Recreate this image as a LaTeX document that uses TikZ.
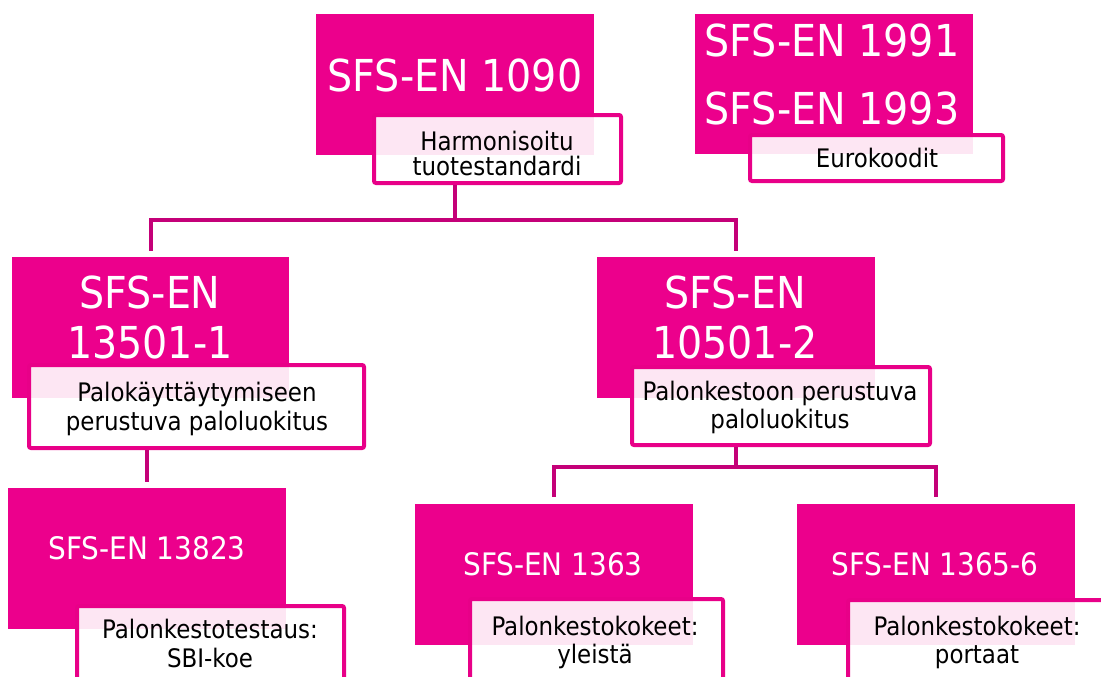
\documentclass[tikz,border=0pt]{standalone}
\usepackage{fontspec}
\setmainfont{DejaVu Sans Condensed}
\definecolor{pk}{RGB}{236,0,140}
\definecolor{pkline}{RGB}{196,0,120}
\definecolor{pkborder}{RGB}{232,0,136}
\begin{document}
\begin{tikzpicture}[x=1pt,y=-1pt,
  stdbox/.style={fill=pk, draw=none, inner sep=0pt},
  lbl/.style={fill=white, fill opacity=0.9, draw=pkborder, line width=4pt, rounded corners=2pt, inner sep=0pt},
  bigtxt/.style={text=white, inner sep=0pt, align=center, font=\fontsize{44}{50}\selectfont},
  midtxt/.style={text=white, inner sep=0pt, align=center, font=\fontsize{31}{34}\selectfont},
  lbltxt/.style={text=black, inner sep=0pt, align=center, font=\fontsize{25.5}{#1}\selectfont},
  conn/.style={draw=pkline, line width=4pt, line join=miter}
]
\useasboundingbox (0,0) rectangle (1101,677);
\clip (0,0) rectangle (1101,677);
\fill[white] (0,0) rectangle (1101,677);

% pink boxes
\node[stdbox, minimum width=278pt, minimum height=141pt] (A) at (455,84.5) {};
\node[stdbox, minimum width=278pt, minimum height=140pt] (B) at (834,84) {};
\node[stdbox, minimum width=277pt, minimum height=141pt] (C) at (150.5,327.5) {};
\node[stdbox, minimum width=278pt, minimum height=141pt] (D) at (736,327.5) {};
\node[stdbox, minimum width=278pt, minimum height=141pt] (E) at (147,558.5) {};
\node[stdbox, minimum width=278pt, minimum height=141pt] (F) at (554,574.5) {};
\node[stdbox, minimum width=278pt, minimum height=141pt] (G) at (936,574.5) {};

% labels
\node[lbl, minimum width=247pt, minimum height=68pt] (LA) at (497.5,149) {};
\node[lbl, minimum width=253pt, minimum height=46pt] (LB) at (876.5,158) {};
\node[lbl, minimum width=335pt, minimum height=83pt] (LC) at (196.5,406.5) {};
\node[lbl, minimum width=298pt, minimum height=78pt] (LD) at (781,406) {};
\node[lbl, minimum width=267pt, minimum height=92pt] (LE) at (210.5,652) {};
\node[lbl, minimum width=253pt, minimum height=99pt] (LF) at (596.5,648.5) {};
\node[lbl, minimum width=260pt, minimum height=98pt] (LG) at (978,649) {};

% texts
\node[bigtxt] (TA) at (455,75) {SFS-EN 1090};
\node[bigtxt] (TB1) at (832,40) {SFS-EN 1991};
\node[bigtxt] (TB2) at (832,108) {SFS-EN 1993};
\node[bigtxt] (TC) at (150,317) {SFS-EN\\13501-1};
\node[bigtxt] (TD) at (735,317) {SFS-EN\\10501-2};
\node[midtxt] (TE) at (147,548) {SFS-EN 13823};
\node[midtxt] (TF) at (553,564) {SFS-EN 1363};
\node[midtxt] (TG) at (935,564) {SFS-EN 1365-6};

\node[lbltxt=25] (TLA) at (497,153) {Harmonisoitu\\tuotestandardi};
\node[lbltxt=28] (TLB) at (877,158) {Eurokoodit};
\node[lbltxt=29] (TLC) at (197,408.5) {Palokäyttäytymiseen\\perustuva paloluokitus};
\node[lbltxt=28] (TLD) at (780,407) {Palonkestoon perustuva\\paloluokitus};
\node[lbltxt=29] (TLE) at (210,643.5) {Palonkestotestaus:\\SBI-koe};
\node[lbltxt=28] (TLF) at (595,642) {Palonkestokokeet:\\yleistä};
\node[lbltxt=28] (TLG) at (977,642) {Palonkestokokeet:\\portaat};

% connectors
\coordinate (j1) at (455,220);
\coordinate (j2) at (736,467);
\draw[conn] (A.center |- LA.south) -- (j1);
\draw[conn, shorten >=6pt] (j1) -| (C.north);
\draw[conn, shorten >=6pt] (j1) -| (D.north);
\draw[conn, shorten >=6pt] (E.north |- LC.south) -- (E.north);
\draw[conn] (D.center |- LD.south) -- (j2);
\draw[conn, shorten >=7pt] (j2) -| (F.north);
\draw[conn, shorten >=7pt] (j2) -| (G.north);
\end{tikzpicture}
\end{document}
